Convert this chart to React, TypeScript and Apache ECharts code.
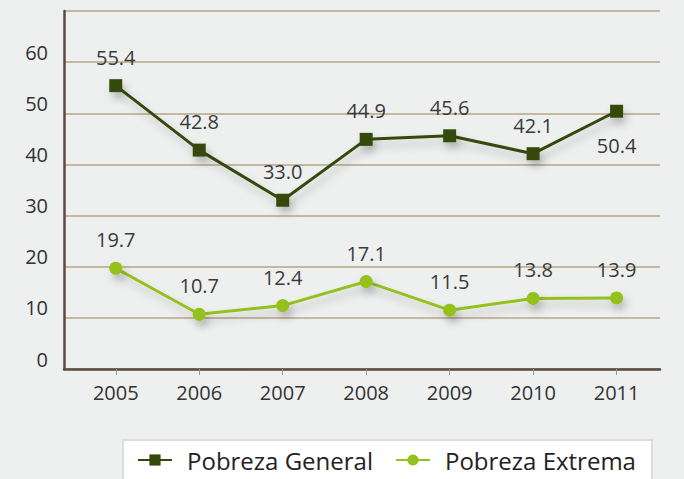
import React, { useEffect, useRef } from "react";
import * as echarts from "echarts";

const years = [2005, 2006, 2007, 2008, 2009, 2010, 2011];
const pobrezaGeneral = [55.4, 42.8, 33.0, 44.9, 45.6, 42.1, 50.4];
const pobrezaExtrema = [19.7, 10.7, 12.4, 17.1, 11.5, 13.8, 13.9];
const yTicks = [0, 10, 20, 30, 40, 50, 60, 70];

const FONT = "'Open Sans', 'Noto Sans', sans-serif";
const DARK = "#344a0c";
const LIGHT = "#95c11f";

export default function App() {
  const ref = useRef<HTMLDivElement>(null);
  useEffect(() => {
    if (!ref.current) return;
    const chart = echarts.init(ref.current, null, { renderer: "svg" });
    const shadow = {
      shadowColor: "rgba(0,0,0,0.22)",
      shadowBlur: 8,
      shadowOffsetX: 3,
      shadowOffsetY: 6,
    };
    const labelBase = {
      show: true,
      fontFamily: FONT,
      fontSize: 20,
      color: "#3a3a3a",
      formatter: (p: any) => Number(p.value[1]).toFixed(1),
    };
    chart.setOption({
      animation: false,
      backgroundColor: "#eef0ef",
      grid: { left: 64, right: 24, top: 11, bottom: 110, containLabel: false },
      xAxis: {
        type: "value",
        min: 2004.38,
        max: 2011.52,
        axisLine: { show: true, onZero: false, lineStyle: { color: "#5a4a42", width: 2.5 } },
        axisTick: {
          show: true,
          customValues: years,
          length: 6,
          lineStyle: { color: "#999", width: 1 },
        },
        axisLabel: {
          customValues: years,
          formatter: (v: number) => String(Math.round(v)),
          fontFamily: FONT,
          fontSize: 20,
          color: "#333",
          margin: 13,
        },
        splitLine: { show: false },
      },
      yAxis: {
        type: "value",
        min: 0,
        max: 70,
        interval: 10,
        axisLine: { show: true, lineStyle: { color: "#5a4a42", width: 2.5 } },
        axisTick: { show: false },
        axisLabel: {
          showMaxLabel: false,
          fontFamily: FONT,
          fontSize: 20,
          color: "#333",
          margin: 16,
          verticalAlign: "bottom",
          formatter: (v: number) => (yTicks.includes(v) ? String(v) : ""),
        },
        splitLine: { show: true, lineStyle: { color: "#c6b8a0", width: 2 } },
      },
      legend: {
        show: true,
        left: 123,
        top: 440,
        width: 520,
        padding: [8, 16, 14, 14],
        backgroundColor: "#ffffff",
        borderColor: "#dcdcdc",
        borderWidth: 2,
        itemWidth: 34,
        itemHeight: 14,
        itemGap: 22,
        textStyle: { fontFamily: FONT, fontSize: 24, color: "#222", padding: [0, 0, 0, 10] },
        data: ["Pobreza General", "Pobreza Extrema"],
      },
      series: [
        {
          name: "Pobreza General",
          type: "line",
          data: years.map((y, i) => {
            const item: any = { value: [y, pobrezaGeneral[i]] };
            if (i === years.length - 1) item.label = { position: "bottom", distance: 18 };
            return item;
          }),
          symbol: "rect",
          symbolSize: 13,
          lineStyle: { color: DARK, width: 3, ...shadow },
          itemStyle: { color: DARK, ...shadow },
          label: { ...labelBase, position: "top", distance: 12 },
          z: 3,
        },
        {
          name: "Pobreza Extrema",
          type: "line",
          data: years.map((y, i) => [y, pobrezaExtrema[i]]),
          symbol: "circle",
          symbolSize: 13,
          lineStyle: { color: LIGHT, width: 3, ...shadow },
          itemStyle: { color: LIGHT, ...shadow },
          label: { ...labelBase, position: "top", distance: 12 },
          z: 3,
        },
      ],
    });
    return () => chart.dispose();
  }, []);
  return (
    <div
      ref={ref}
      style={{ position: "fixed", left: 0, top: 0, width: 684, height: 479 }}
    />
  );
}
